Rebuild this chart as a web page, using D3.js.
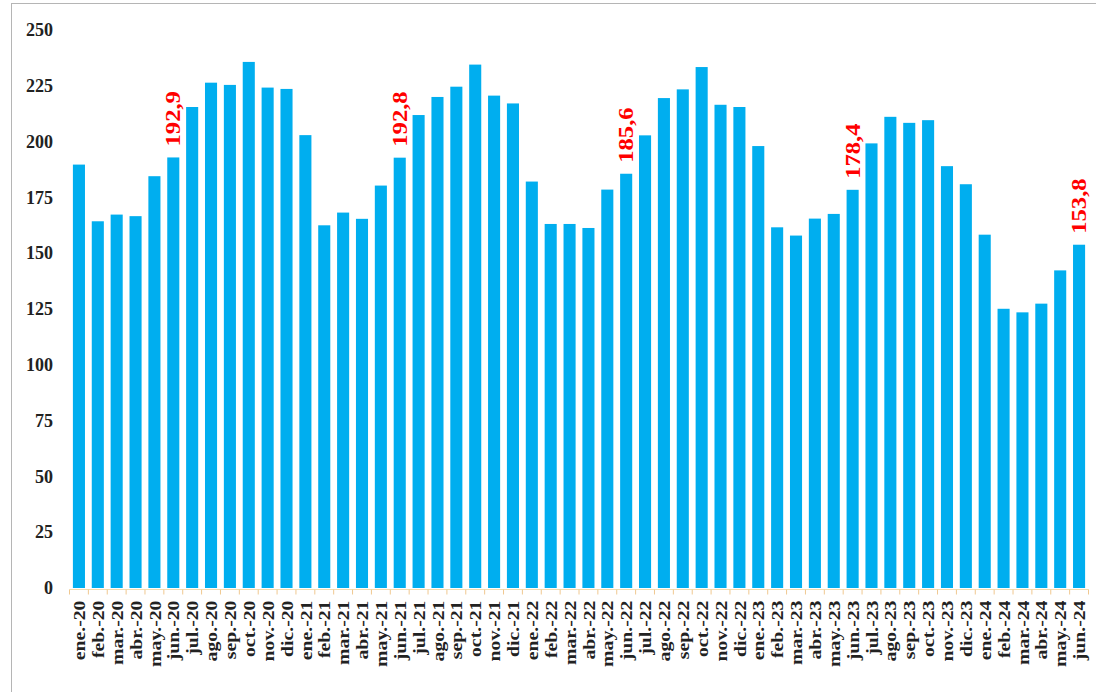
<!DOCTYPE html>
<html>
<head>
<meta charset="utf-8">
<script src="https://cdn.jsdelivr.net/npm/d3@7"></script>
<style>
  html, body { margin: 0; padding: 0; background: #fff; }
  svg { display: block; }
  .axis text, .value-label { font-family: "Times New Roman", "Liberation Serif", Tinos, Times, serif; font-weight: bold; }
  .axis text { fill: #222; }
</style>
</head>
<body>
<div id="chart"></div>
<script>

const months = [
  'ene.-20','feb.-20','mar.-20','abr.-20','may.-20','jun.-20','jul.-20','ago.-20','sep.-20','oct.-20','nov.-20','dic.-20',
  'ene.-21','feb.-21','mar.-21','abr.-21','may.-21','jun.-21','jul.-21','ago.-21','sep.-21','oct.-21','nov.-21','dic.-21',
  'ene.-22','feb.-22','mar.-22','abr.-22','may.-22','jun.-22','jul.-22','ago.-22','sep.-22','oct.-22','nov.-22','dic.-22',
  'ene.-23','feb.-23','mar.-23','abr.-23','may.-23','jun.-23','jul.-23','ago.-23','sep.-23','oct.-23','nov.-23','dic.-23',
  'ene.-24','feb.-24','mar.-24','abr.-24','may.-24','jun.-24'
]

const values = [
  189.7, 164.3, 167.3, 166.6, 184.5, 192.9, 215.5, 226.4, 225.4, 235.7, 224.2, 223.6,
  202.9, 162.5, 168.2, 165.4, 180.3, 192.8, 211.9, 220.0, 224.6, 234.5, 220.6, 217.1,
  182.1, 163.1, 163.1, 161.3, 178.5, 185.6, 202.8, 219.5, 223.4, 233.4, 216.5, 215.5,
  198.0, 161.6, 157.9, 165.5, 167.6, 178.4, 199.2, 211.1, 208.4, 209.6, 189.0, 180.9,
  158.3, 125.1, 123.5, 127.4, 142.3, 153.8
]

// months that get a red value label
const labelled = ['jun.-20', 'jun.-21', 'jun.-22', 'jun.-23', 'jun.-24']

const yTicks = [0, 25, 50, 75, 100, 125, 150, 175, 200, 225, 250]

const data = months.map((m, i) => ({ month: m, value: values[i] }))

const width = 1096
const height = 692

const svg = d3.select('#chart').append('svg')
  .attr('width', width)
  .attr('height', height)

// frame
svg.append('rect')
  .attr('x', 11.5)
  .attr('y', 3.5)
  .attr('width', width)
  .attr('height', height)
  .attr('fill', 'none')
  .attr('stroke', '#b5b5b5')

const x = d3.scaleBand()
  .domain(months)
  .range([69.5, 1088.5])
  .paddingInner(0.36)
  .paddingOuter(0.18)

const y = d3.scaleLinear()
  .domain([0, 250])
  .range([588, 30])

// y axis, labels only
const yAxis = svg.append('g')
  .attr('class', 'axis y-axis')
  .attr('transform', 'translate(60,0)')
  .call(d3.axisLeft(y).tickValues(yTicks).tickSize(0).tickPadding(7))

yAxis.select('.domain').remove()
yAxis.selectAll('text')
  .style('font-size', '18px')

// bars
svg.append('g')
  .selectAll('rect')
  .data(data)
  .join('rect')
    .attr('x', d => x(d.month))
    .attr('y', d => y(d.value))
    .attr('width', x.bandwidth())
    .attr('height', d => y(0) - y(d.value))
    .attr('fill', '#00aeef')

// x axis line and tick marks between categories
const step = x.step()
const baseY = y(0) + 1.5

svg.append('line')
  .attr('x1', x.range()[0])
  .attr('x2', x.range()[1])
  .attr('y1', baseY)
  .attr('y2', baseY)
  .attr('stroke', '#f2dcb0')
  .attr('stroke-width', 1.2)

const bounds = d3.range(months.length + 1).map(i => x.range()[0] + i * step)

svg.append('g')
  .selectAll('line')
  .data(bounds)
  .join('line')
    .attr('x1', d => d)
    .attr('x2', d => d)
    .attr('y1', baseY)
    .attr('y2', baseY + 5)
    .attr('stroke', '#f0c890')
    .attr('stroke-width', 1)

// x axis labels
const xAxis = svg.append('g')
  .attr('class', 'axis x-axis')
  .attr('transform', `translate(0,${ baseY })`)
  .call(d3.axisBottom(x).tickSize(0))

xAxis.select('.domain').remove()
xAxis.selectAll('.tick text')
  .style('font-size', '17.5px')
  .style('text-anchor', 'end')
  .attr('x', 0)
  .attr('y', 0)
  .attr('dy', '0.35em')
  .attr('transform', 'translate(0,11) rotate(-90) scale(1.13,1)')

// red value labels
svg.append('g')
  .selectAll('text')
  .data(data.filter(d => labelled.includes(d.month)))
  .join('text')
    .attr('class', 'value-label')
    .attr('transform', d => `translate(${ x(d.month) + x.bandwidth() / 2 },${ y(d.value) - 11 }) rotate(-90) scale(1.2,1)`)
    .attr('dy', '0.35em')
    .style('font-size', '20.5px')
    .style('fill', '#ff0000')
    .text(d => d3.format('.1f')(d.value).replace('.', ','))

</script>
</body>
</html>
